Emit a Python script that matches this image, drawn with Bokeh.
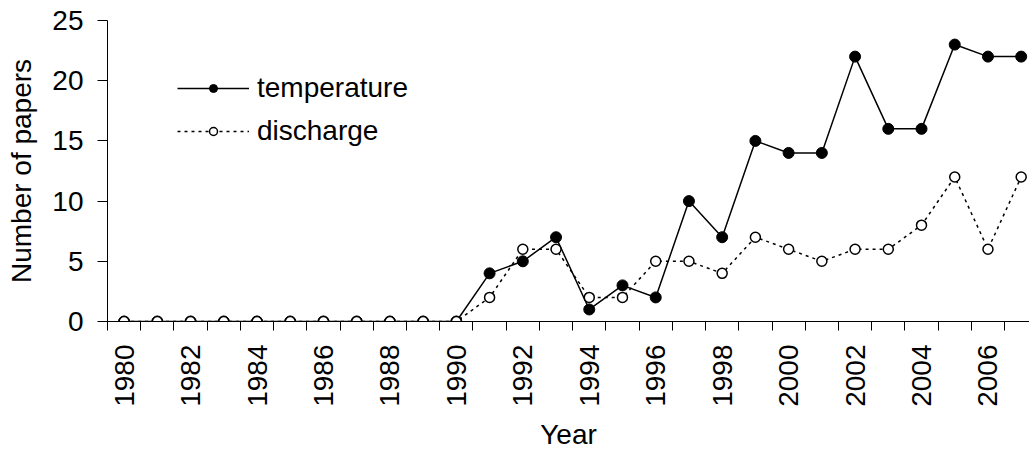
import math
from bokeh.plotting import figure
from bokeh.models import FixedTicker, Range1d, Legend, LegendItem
from bokeh.embed import file_html
from bokeh.resources import INLINE

years = [1980, 1981, 1982, 1983, 1984, 1985, 1986, 1987, 1988, 1989, 1990,
         1991, 1992, 1993, 1994, 1995, 1996, 1997, 1998, 1999, 2000, 2001,
         2002, 2003, 2004, 2005, 2006, 2007]
temperature = [0, 0, 0, 0, 0, 0, 0, 0, 0, 0, 0,
               4, 5, 7, 1, 3, 2, 10, 7, 15, 14, 14, 22, 16, 16, 23, 22, 22]
discharge = [0, 0, 0, 0, 0, 0, 0, 0, 0, 0, 0,
             2, 6, 6, 2, 2, 5, 5, 4, 7, 6, 5, 6, 6, 8, 12, 6, 12]
label_years = [1980, 1982, 1984, 1986, 1988, 1990, 1992, 1994, 1996, 1998,
               2000, 2002, 2004, 2006]
y_ticks = [0, 5, 10, 15, 20, 25]

FONT = "Liberation Sans"
FS = "28px"

p = figure(width=1029, height=452, output_backend="svg", toolbar_location=None,
           x_range=Range1d(1979.5, 2007.25), y_range=Range1d(0, 25),
           min_border_left=107, min_border_right=0, min_border_top=20,
           min_border_bottom=131)
p.outline_line_color = None
p.xgrid.visible = False
p.ygrid.visible = False
p.background_fill_color = "white"

r1 = p.line(years, temperature, line_color="black", line_width=1.5)
s1 = p.scatter(years, temperature, size=11, fill_color="black", line_color="black")
r2 = p.line(years, discharge, line_color="black", line_width=1.5, line_dash="3 4")
s2 = p.scatter(years, discharge, size=10, fill_color="white", line_color="black",
               line_width=1.5)

xa = p.xaxis[0]
xa.ticker = FixedTicker(ticks=label_years,
                        minor_ticks=[y - 0.5 for y in years] + [years[-1] + 0.5])
xa.major_tick_out = 0
xa.major_tick_in = 0
xa.minor_tick_out = 9
xa.minor_tick_in = 0
xa.minor_tick_line_color = "black"
xa.axis_line_color = "black"
xa.major_label_orientation = math.pi / 2
xa.major_label_standoff = 14
xa.major_label_text_font = FONT
xa.major_label_text_font_size = FS
xa.major_label_text_color = "black"
xa.axis_label = "Year"
xa.axis_label_text_font = FONT
xa.axis_label_text_font_size = FS
xa.axis_label_text_font_style = "normal"
xa.axis_label_text_color = "black"
xa.axis_label_standoff = 9

ya = p.yaxis[0]
ya.ticker = FixedTicker(ticks=y_ticks)
ya.major_tick_out = 10
ya.major_tick_in = 0
ya.minor_tick_out = 0
ya.minor_tick_in = 0
ya.major_tick_line_color = "black"
ya.axis_line_color = "black"
ya.major_label_standoff = 14
ya.major_label_text_font = FONT
ya.major_label_text_font_size = FS
ya.major_label_text_color = "black"
ya.axis_label = "Number of papers"
ya.axis_label_text_font = FONT
ya.axis_label_text_font_size = FS
ya.axis_label_text_font_style = "normal"
ya.axis_label_text_color = "black"
ya.axis_label_standoff = 12

legend = Legend(items=[LegendItem(label="temperature", renderers=[r1, s1]),
                       LegendItem(label="discharge", renderers=[r2, s2])],
                location=(70, 170), glyph_width=72, glyph_height=20,
                label_standoff=8, label_height=40, spacing=3, padding=0,
                margin=0, border_line_alpha=0, background_fill_alpha=0,
                label_text_font=FONT, label_text_font_size="28px",
                label_text_color="black")
p.add_layout(legend)

open("out.html", "w").write(file_html(p, INLINE))
